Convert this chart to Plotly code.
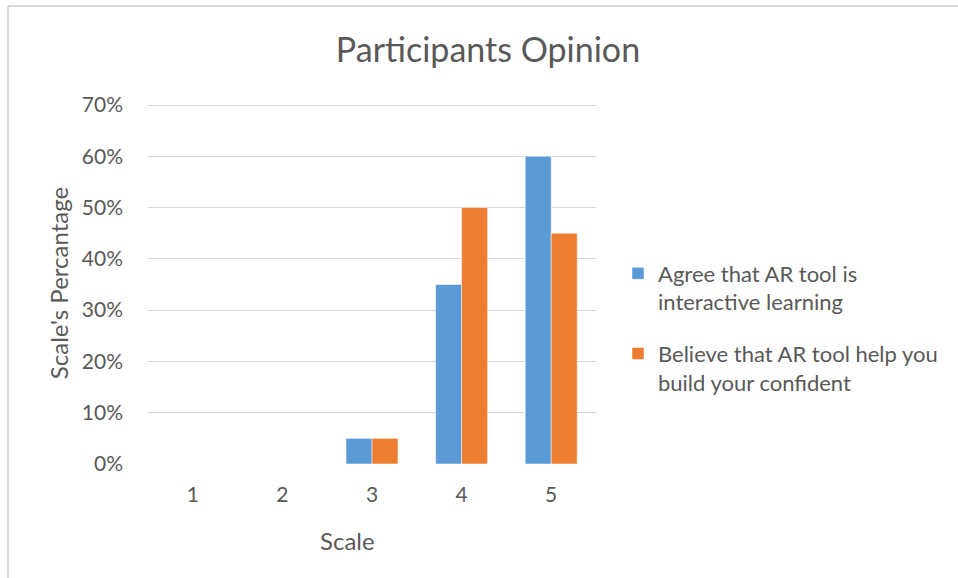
import plotly.graph_objects as go

categories = ["1", "2", "3", "4", "5"]
series1_name = "Agree that AR tool is<br>interactive learning"
series2_name = "Believe that AR tool help you<br>build your confident"
series1_values = [0.0, 0.0, 0.05, 0.35, 0.60]
series2_values = [0.0, 0.0, 0.05, 0.50, 0.45]
y_ticks = [0, 0.1, 0.2, 0.3, 0.4, 0.5, 0.6, 0.7]
y_tick_labels = ["0%", "10%", "20%", "30%", "40%", "50%", "60%", "70%"]

FONT = "Lato"
TXT = "#595959"

TOP = 102
BOT = 464
PH = BOT - TOP

fig = go.Figure()
fig.add_trace(go.Bar(x=categories, y=series1_values, name=series1_name, legendgroup="g1",
                     marker=dict(color="#5B9BD5", line=dict(color="#FFFFFF", width=0.5))))
fig.add_trace(go.Bar(x=categories, y=series2_values, name=series2_name, legendgroup="g2",
                     marker=dict(color="#ED7D31", line=dict(color="#FFFFFF", width=0.5))))

fig.update_layout(
    width=958, height=578,
    margin=dict(l=148, r=362, t=TOP, b=578 - BOT),
    paper_bgcolor="white", plot_bgcolor="white",
    font=dict(family=FONT, color=TXT, size=21),
    barmode="group", bargap=0.42, bargroupgap=0,
    title=dict(text="Participants Opinion", x=488 / 958, xref="container", xanchor="center",
               y=1 - 50 / 578, yref="container", yanchor="middle",
               font=dict(size=34, color=TXT, family=FONT)),
    showlegend=True,
    legend=dict(x=(618 - 148) / 448, xanchor="left", y=(BOT - 328) / PH, yanchor="middle",
                valign="top", font=dict(size=22, color=TXT, family=FONT),
                itemwidth=30, tracegroupgap=20, bgcolor="rgba(0,0,0,0)"),
    xaxis=dict(type="category", showgrid=False, zeroline=False, showline=False,
               ticks="", ticklabelstandoff=16, tickfont=dict(size=21, color=TXT)),
    yaxis=dict(range=[0, 0.7 * PH / (BOT - 105)], tickvals=y_ticks, ticktext=y_tick_labels,
               showgrid=True, gridcolor="#D9D9D9", gridwidth=1.3,
               zeroline=False, showline=False, ticks="", ticklabelstandoff=24,
               tickfont=dict(size=21, color=TXT),
               title=dict(text="Scale's Percantage", standoff=6,
                          font=dict(size=24, color=TXT))),
    annotations=[dict(text="Scale", xref="paper", yref="paper",
                      x=(347 - 148) / 448, y=-(540 - BOT) / PH,
                      xanchor="center", yanchor="middle", showarrow=False,
                      font=dict(size=24, color=TXT, family=FONT))],
    shapes=[
        dict(type="line", xref="paper", yref="paper",
             x0=-(148 - 8) / 448, x1=(958 - 148) / 448, y0=1 + (TOP - 6) / PH, y1=1 + (TOP - 6) / PH,
             line=dict(color="#D9D9D9", width=2)),
        dict(type="line", xref="paper", yref="paper",
             x0=-(148 - 8) / 448, x1=-(148 - 8) / 448, y0=1 + (TOP - 6) / PH, y1=-(578 - BOT) / PH,
             line=dict(color="#D9D9D9", width=2)),
    ],
)

fig.write_html("out.html")
